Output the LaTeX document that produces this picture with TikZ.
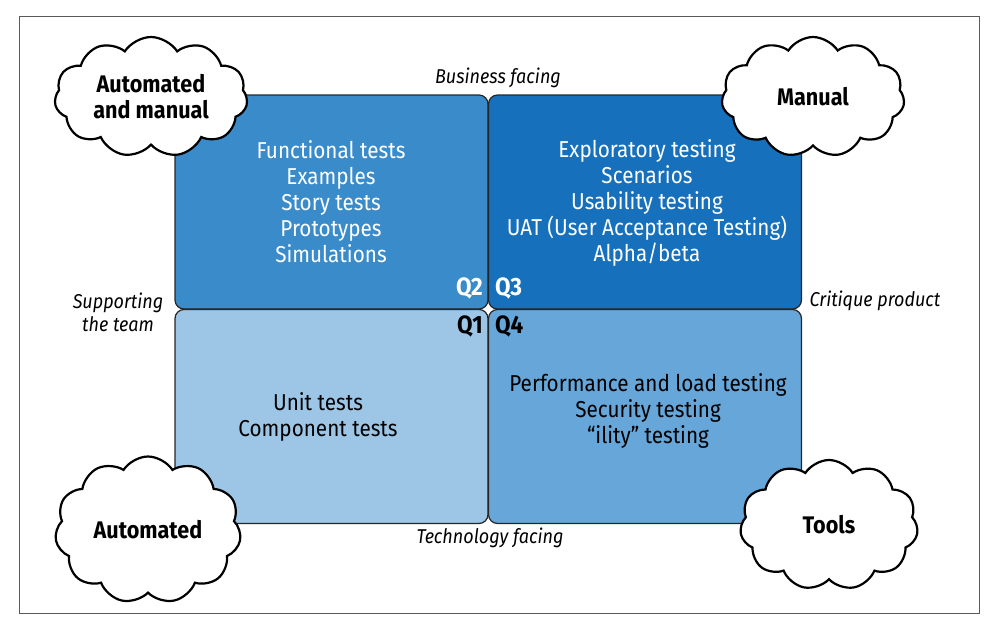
\documentclass[tikz,border=0pt]{standalone}
\usepackage{fontspec}
\setmainfont[FakeStretch=0.9]{Fira Sans}
\usetikzlibrary{shapes.symbols}
\definecolor{qtwo}{RGB}{58,139,202}
\definecolor{qthree}{RGB}{22,112,187}
\definecolor{qone}{RGB}{157,198,230}
\definecolor{qfour}{RGB}{102,166,216}
\definecolor{framegray}{RGB}{90,90,90}
\tikzset{
  quad/.style={draw=black!85, line width=1.2pt, rounded corners=9pt, minimum width=313pt, minimum height=214pt, inner sep=0pt, outer sep=0pt, anchor=north west},
  qtext/.style={align=center, font=\fontsize{23}{26}\selectfont, text=white},
  qtextdark/.style={align=center, font=\fontsize{23}{26}\selectfont, text=black},
  qlab/.style={font=\fontsize{25}{28}\selectfont\bfseries, inner sep=0pt},
  axis/.style={align=center, font=\fontsize{20}{23}\selectfont\itshape, text=black},
  cloudnode/.style={cloud, cloud puffs=11, cloud puff arc=115, cloud ignores aspect, draw=black, line width=2.2pt, fill=white, align=center, font=\fontsize{24}{26}\selectfont\bfseries, inner sep=0pt}
}
\begin{document}
\begin{tikzpicture}[x=1pt,y=-1pt]
\useasboundingbox (0,0) rectangle (990,624);
\node[draw=framegray, line width=1.3pt, minimum width=960pt, minimum height=597pt, anchor=north west, inner sep=0pt] (frame) at (18.5,16) {};
% quadrants
\node[quad, fill=qtwo] (q2) at (175,95) {};
\node[quad, fill=qthree] (q3) at (488.5,95) {};
\node[quad, fill=qone] (q1) at (175,309.5) {};
\node[quad, fill=qfour] (q4) at (488.5,309.5) {};
% quadrant texts
\node[qtext] (t2) at (331,202) {Functional tests\\Examples\\Story tests\\Prototypes\\Simulations};
\node[qtext] (t3) at (647,203) {Exploratory testing\\Scenarios\\Usability testing\\UAT (User Acceptance Testing)\\Alpha/beta};
\node[qtextdark] (t1) at (318,417) {Unit tests\\Component tests};
\node[qtextdark] (t4) at (648,411) {Performance and load testing\\Security testing\\“ility” testing};
% Q labels
\node[qlab, text=white, anchor=east] (l2) at (483,288) {Q2};
\node[qlab, text=white, anchor=west] (l3) at (495,288) {Q3};
\node[qlab, text=black, anchor=east] (l1) at (483,326) {Q1};
\node[qlab, text=black, anchor=west] (l4) at (495,326) {Q4};
% axis labels
\node[axis] (business) at (498,78) {Business facing};
\node[axis] (technology) at (490,538) {Technology facing};
\node[axis] (supporting) at (118,312) {Supporting\\the team};
\node[axis] (critique) at (875,301) {Critique product};
% clouds
\node[cloudnode, minimum width=193pt, minimum height=120pt] (c1) at (151,97) {Automated\\and manual};
\node[cloudnode, minimum width=183pt, minimum height=120pt] (c2) at (813,97) {Manual};
\node[cloudnode, minimum width=186pt, minimum height=147pt] (c3) at (148,530) {Automated};
\node[cloudnode, minimum width=178pt, minimum height=130pt] (c4) at (829,525) {Tools};
\end{tikzpicture}
\end{document}
